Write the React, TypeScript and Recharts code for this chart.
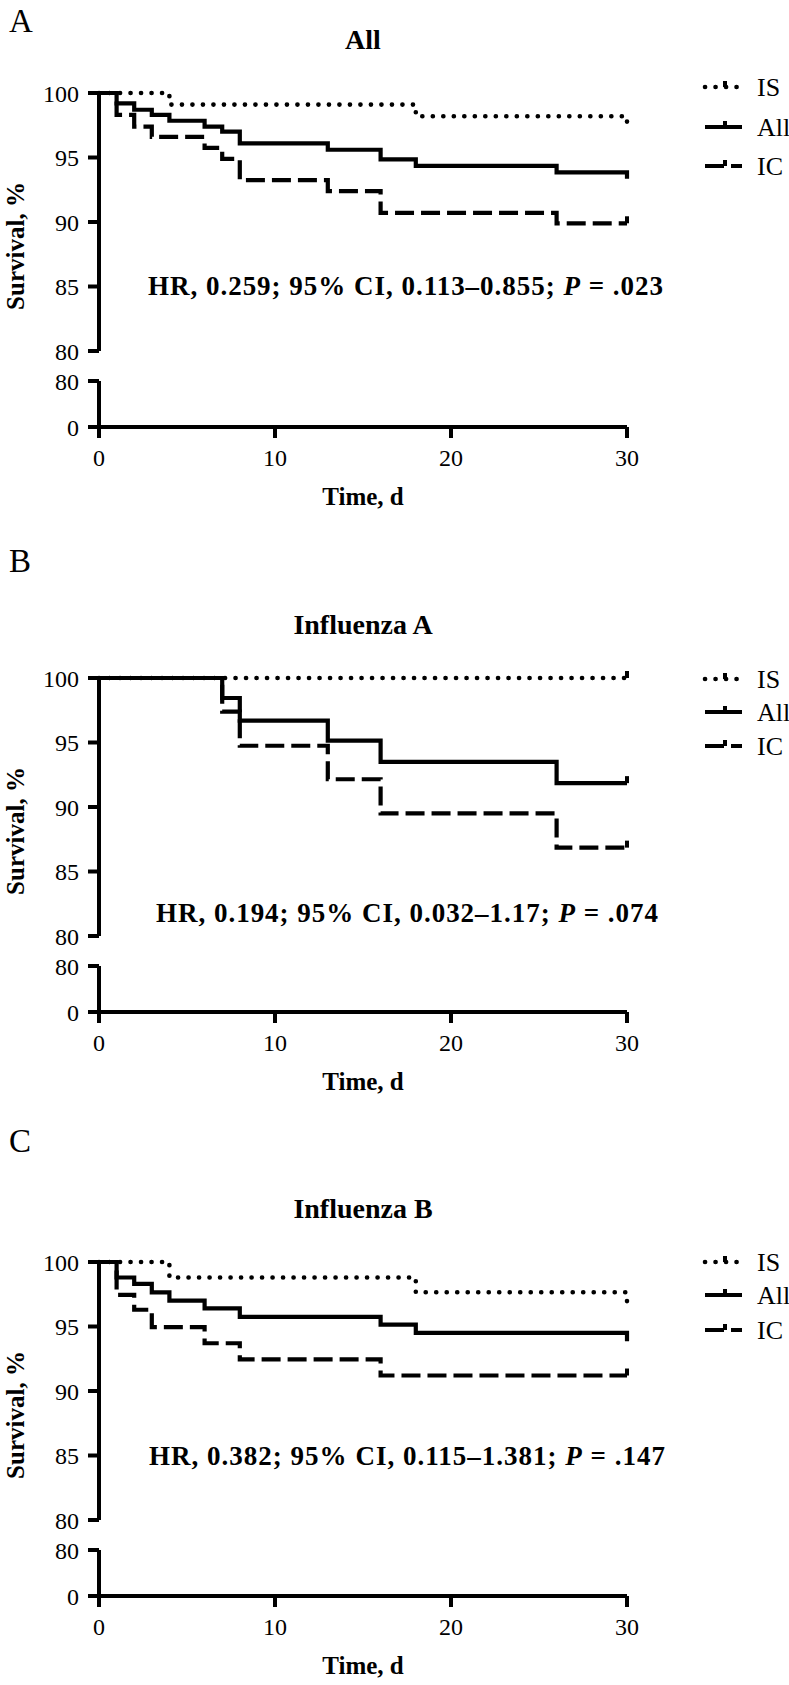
import { LineChart, Line, XAxis, YAxis } from 'recharts';

// x axis
const DAY_TICKS = [0, 10, 20, 30];
const TOP_TICKS = [80, 85, 90, 95, 100];
const LOW_TICKS = [0, 80];

// A: All
const A_IS_DAYS = [0, 4, 18, 30, 30];
const A_IS_SURV = [100, 99.1, 98.2, 98.2, 97.3];
const A_ALL_DAYS = [0, 1, 2, 3, 4, 6, 7, 8, 13, 16, 18, 26, 30, 30];
const A_ALL_SURV = [100, 99.2, 98.7, 98.3, 97.85, 97.4, 97.0, 96.1, 95.6, 94.85, 94.35, 93.85, 93.85, 93.35];
const A_IC_DAYS = [0, 1, 2, 3, 6, 7, 8, 13, 16, 26, 30];
const A_IC_SURV = [100, 98.3, 97.4, 96.6, 95.75, 94.9, 93.25, 92.4, 90.7, 89.9, 89.9];

// B: Influenza A
const B_IS_DAYS = [0, 30];
const B_IS_SURV = [100, 100];
const B_ALL_DAYS = [0, 7, 8, 13, 16, 26, 30];
const B_ALL_SURV = [100, 98.45, 96.7, 95.15, 93.5, 91.85, 91.85];
const B_IC_DAYS = [0, 7, 8, 13, 16, 26, 30];
const B_IC_SURV = [100, 97.4, 94.75, 92.15, 89.5, 86.85, 86.85];

// C: Influenza B
const C_IS_DAYS = [0, 4, 18, 30, 30];
const C_IS_SURV = [100, 98.8, 97.65, 97.65, 96.55];
const C_ALL_DAYS = [0, 1, 2, 3, 4, 6, 8, 16, 18, 30, 30];
const C_ALL_SURV = [100, 98.8, 98.3, 97.65, 97.0, 96.4, 95.75, 95.15, 94.5, 94.5, 93.85];
const C_IC_DAYS = [0, 1, 2, 3, 6, 8, 16, 30];
const C_IC_SURV = [100, 97.45, 96.3, 94.95, 93.7, 92.45, 91.2, 91.2];

// censored at end of follow-up (tick mark)
const A_CENSOR = { IS: [], All: [], IC: [30] };
const B_CENSOR = { IS: [30], All: [30], IC: [30] };
const C_CENSOR = { IS: [], All: [], IC: [30] };

const SERIF = "'Liberation Serif', 'Times New Roman', Times, serif";

const toPoints = (days: number[], surv: number[]) => days.map((d, i) => ({ day: d, surv: surv[i] }));

const STYLES: Record<string, { dash?: string; width: number; cap: 'round' | 'butt' }> = {
  IS: { dash: '0.1 10.4', width: 4.6, cap: 'round' },
  All: { width: 4.2, cap: 'butt' },
  IC: { dash: '19 7', width: 4.2, cap: 'butt' },
};

const censorDot = (days: number[], lastIdx: number) => (props: any) => {
  const { cx, cy, index } = props;
  if (index !== lastIdx || !days.length) return <g key={`c-${index}`} />;
  return <line key={`c-${index}`} x1={cx} x2={cx} y1={cy} y2={cy - 7} stroke="#000" strokeWidth={4} />;
};

interface PanelProps {
  offset: number;
  series: { name: string; days: number[]; surv: number[]; censor: number[] }[];
}

function Panel({ offset, series }: PanelProps) {
  const tickStyle = { fontSize: 24, fill: '#000', fontFamily: SERIF };
  const axisLine = { stroke: '#000', strokeWidth: 4 };
  return (
    <>
      <div style={{ position: 'absolute', left: 0, top: offset, width: 789, height: 372 }}>
        <LineChart width={789} height={372} margin={{ top: 93, right: 162, bottom: 21, left: 39 }}>
          <XAxis type="number" dataKey="day" domain={[0, 30]} ticks={DAY_TICKS} hide />
          <YAxis
            type="number"
            domain={[80, 100]}
            ticks={TOP_TICKS}
            interval={0}
            width={60}
            tick={tickStyle}
            tickSize={11}
            tickMargin={9}
            axisLine={axisLine}
            tickLine={axisLine}
          />
          {series.map((s) => {
            const st = STYLES[s.name];
            return (
              <Line
                key={s.name}
                data={toPoints(s.days, s.surv)}
                dataKey="surv"
                type="stepAfter"
                stroke="#000"
                strokeWidth={st.width}
                strokeDasharray={st.dash}
                strokeLinecap={st.cap}
                dot={censorDot(s.censor, s.days.length - 1)}
                activeDot={false}
                isAnimationActive={false}
              />
            );
          })}
        </LineChart>
      </div>
      <div style={{ position: 'absolute', left: 0, top: offset + 366, width: 789, height: 174 }}>
        <LineChart
          width={789}
          height={174}
          data={DAY_TICKS.map((d) => ({ day: d }))}
          margin={{ top: 15, right: 162, bottom: 0, left: 39 }}
        >
          <XAxis
            type="number"
            dataKey="day"
            domain={[0, 30]}
            ticks={DAY_TICKS}
            interval={0}
            height={113}
            tick={tickStyle}
            tickSize={11}
            tickMargin={11}
            axisLine={axisLine}
            tickLine={axisLine}
          />
          <YAxis
            type="number"
            domain={[0, 80]}
            allowDataOverflow
            ticks={LOW_TICKS}
            interval={0}
            width={60}
            tick={tickStyle}
            tickSize={11}
            tickMargin={9}
            axisLine={axisLine}
            tickLine={axisLine}
          />
        </LineChart>
      </div>
    </>
  );
}

const PANELS = [
  {
    letter: 'A', title: 'All', offset: 0, letterY: 32,
    hr: ['HR, 0.259; 95% CI, 0.113–0.855; ', '= .023'], hrX: 148, hrY: 295, hrW: 515,
    legendY: [87, 127, 166],
    series: [
      { name: 'IS', days: A_IS_DAYS, surv: A_IS_SURV, censor: A_CENSOR.IS },
      { name: 'All', days: A_ALL_DAYS, surv: A_ALL_SURV, censor: A_CENSOR.All },
      { name: 'IC', days: A_IC_DAYS, surv: A_IC_SURV, censor: A_CENSOR.IC },
    ],
  },
  {
    letter: 'B', title: 'Influenza A', offset: 585, letterY: 572,
    hr: ['HR, 0.194; 95% CI, 0.032–1.17; ', '= .074'], hrX: 156, hrY: 922, hrW: 502,
    legendY: [94, 127, 161],
    series: [
      { name: 'IS', days: B_IS_DAYS, surv: B_IS_SURV, censor: B_CENSOR.IS },
      { name: 'All', days: B_ALL_DAYS, surv: B_ALL_SURV, censor: B_CENSOR.All },
      { name: 'IC', days: B_IC_DAYS, surv: B_IC_SURV, censor: B_CENSOR.IC },
    ],
  },
  {
    letter: 'C', title: 'Influenza B', offset: 1169, letterY: 1152,
    hr: ['HR, 0.382; 95% CI, 0.115–1.381; ', '= .147'], hrX: 149, hrY: 1465, hrW: 516,
    legendY: [93, 126, 161],
    series: [
      { name: 'IS', days: C_IS_DAYS, surv: C_IS_SURV, censor: C_CENSOR.IS },
      { name: 'All', days: C_ALL_DAYS, surv: C_ALL_SURV, censor: C_CENSOR.All },
      { name: 'IC', days: C_IC_DAYS, surv: C_IC_SURV, censor: C_CENSOR.IC },
    ],
  },
];

export default function App() {
  return (
    <div
      style={{
        position: 'absolute',
        left: 0,
        top: 0,
        width: 789,
        height: 1685,
        background: '#fff',
        fontFamily: SERIF,
      }}
    >
      {PANELS.map((p) => (
        <Panel key={p.letter} offset={p.offset} series={p.series} />
      ))}
      <svg
        width={789}
        height={1685}
        style={{ position: 'absolute', left: 0, top: 0, pointerEvents: 'none', fontFamily: SERIF }}
      >
        {PANELS.map((p) => {
          const o = p.offset;
          return (
            <g key={p.letter} fill="#000">
              <text x={9} y={p.letterY} fontSize={33}>{p.letter}</text>
              <text x={363} y={o + 49} fontSize={28} fontWeight="bold" textAnchor="middle">{p.title}</text>
              <text x={p.hrX} y={p.hrY} fontSize={27} fontWeight="bold" textLength={p.hrW} lengthAdjust="spacing">
                {p.hr[0]}
                <tspan fontStyle="italic">P</tspan> {p.hr[1]}
              </text>
              <text
                x={15}
                y={o + 246}
                fontSize={25}
                fontWeight="bold"
                textAnchor="middle"
                dominantBaseline="central"
                transform={`rotate(-90, 15, ${o + 246})`}
              >
                Survival, %
              </text>
              <text x={363} y={o + 505} fontSize={25} fontWeight="bold" textAnchor="middle">Time, d</text>
              {p.series.map((s, i) => {
                const st = STYLES[s.name];
                const y = o + p.legendY[i];
                return (
                  <g key={s.name}>
                    <line
                      x1={705}
                      x2={742}
                      y1={y}
                      y2={y}
                      stroke="#000"
                      strokeWidth={st.width}
                      strokeDasharray={st.dash}
                      strokeLinecap={st.cap}
                    />
                    <line x1={725} x2={725} y1={y} y2={y - 6} stroke="#000" strokeWidth={4} />
                    <text x={757} y={y} fontSize={26} dy="0.35em">{s.name}</text>
                  </g>
                );
              })}
            </g>
          );
        })}
      </svg>
    </div>
  );
}
